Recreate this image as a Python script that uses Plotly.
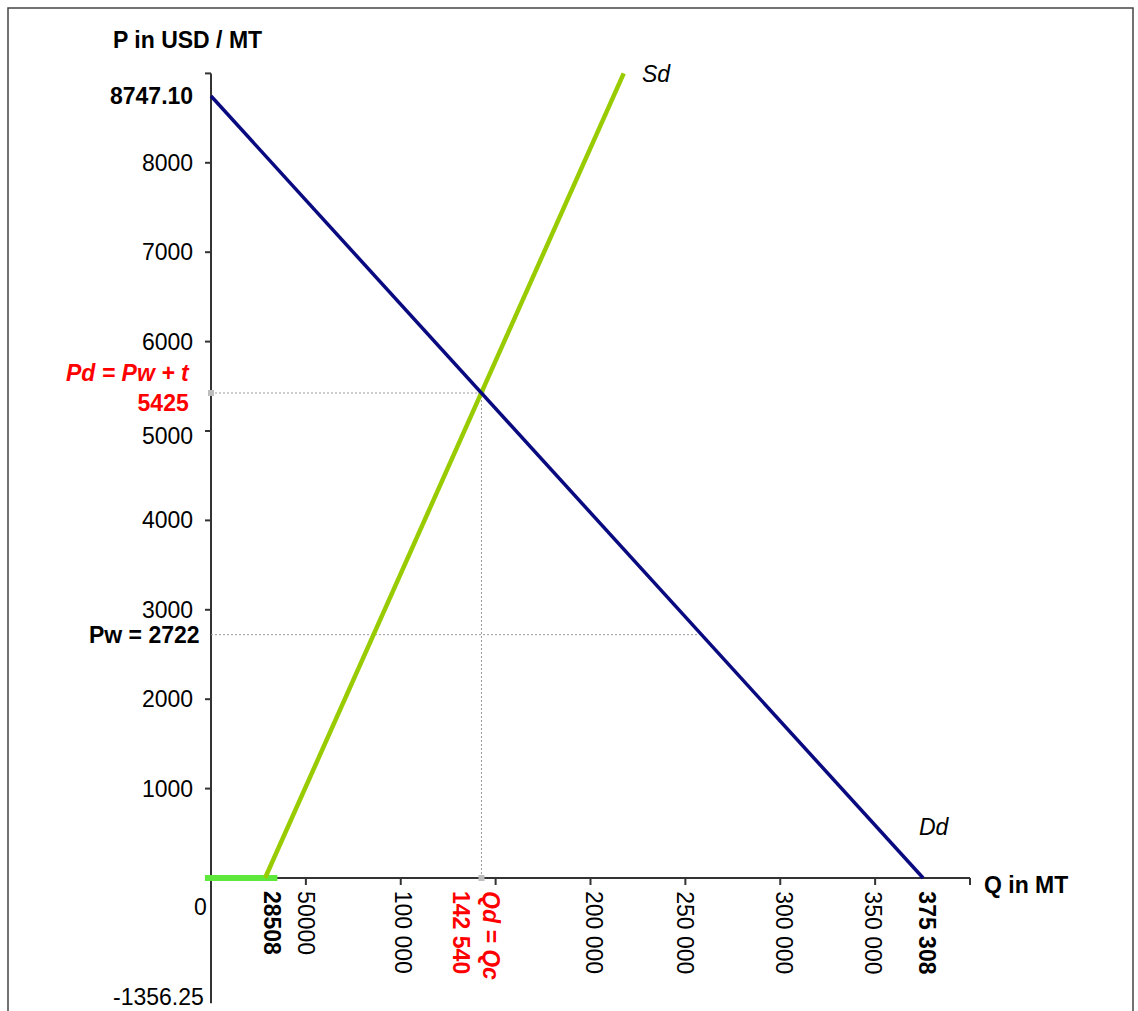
import plotly.graph_objects as go

# ---------------- data ----------------
demand_q = [0, 375308]
demand_p = [8747.10, 0]
supply_q = [28508, 217500]
supply_p = [0, 9000]
green_q = [-3200, 35000]
green_p = [0, 0]

pd_price = 5425          # Pd = Pw + t
pw_price = 2722          # Pw
qd_qc = 142540           # Qd = Qc
q_demand_at_pw = 258516  # demand quantity at Pw

y_tick_vals = [1000, 2000, 3000, 4000, 5000, 6000, 7000, 8000, 9000]
y_tick_labels = ["1000", "2000", "3000", "4000", "5000", "6000", "7000", "8000", ""]
x_tick_vals = [50000, 100000, 150000, 200000, 250000, 300000, 350000, 400000]
x_labels_vals = [28508, 50000, 100000, 200000, 250000, 300000, 350000, 375308]
x_labels_text = ["<b>28508</b>", "50000", "100 000", "200 000", "250 000",
                 "300 000", "350 000", "<b>375 308</b>"]
x_labels_shift = [7, 0, 3, 4, 0, 4, -2, 4]

# ---------------- layout calibration ----------------
W, H = 1138, 1011
X0_PX, X_SCALE = 211, (970 - 211) / 400000
Y0_PX, Y_SCALE = 878, 0.0894
x_range = [(0 - X0_PX) / X_SCALE, (W - X0_PX) / X_SCALE]
y_range = [(Y0_PX - H) / Y_SCALE, Y0_PX / Y_SCALE]

FONT = "Liberation Sans, Arial, sans-serif"
FS = 23
AXIS_COLOR = "#333333"
DASH_COLOR = "#9a9a9a"

fig = go.Figure()

# dashed guide lines
fig.add_trace(go.Scatter(x=[0, qd_qc], y=[pd_price, pd_price], mode="lines",
                         line=dict(color=DASH_COLOR, width=1, dash="2px,2px"), hoverinfo="skip"))
fig.add_trace(go.Scatter(x=[qd_qc, qd_qc], y=[0, pd_price], mode="lines",
                         line=dict(color=DASH_COLOR, width=1, dash="2px,2px"), hoverinfo="skip"))
fig.add_trace(go.Scatter(x=[0, q_demand_at_pw], y=[pw_price, pw_price], mode="lines",
                         line=dict(color=DASH_COLOR, width=1, dash="2px,2px"), hoverinfo="skip"))
fig.add_trace(go.Scatter(x=[0, qd_qc, qd_qc], y=[pd_price, 0, pd_price], mode="markers",
                         marker=dict(color="#bdbdbd", size=6, symbol="square"), hoverinfo="skip"))

# curves
fig.add_trace(go.Scatter(x=green_q, y=green_p, mode="lines",
                         line=dict(color="#5ee83c", width=6), hoverinfo="skip"))
fig.add_trace(go.Scatter(x=supply_q, y=supply_p, mode="lines",
                         line=dict(color="#99cc00", width=4.5), hoverinfo="skip"))
fig.add_trace(go.Scatter(x=demand_q, y=demand_p, mode="lines",
                         line=dict(color="#0a0a80", width=3.5), hoverinfo="skip"))

shapes = []
# axes
shapes.append(dict(type="line", xref="x", yref="y", x0=0, x1=0, y0=-1400, y1=9000,
                   line=dict(color=AXIS_COLOR, width=2), layer="below"))
shapes.append(dict(type="line", xref="x", yref="y", x0=0, x1=400000, y0=0, y1=0,
                   line=dict(color=AXIS_COLOR, width=2), layer="below"))
# ticks
tick_dx = 6 / X_SCALE
tick_dy = 7 / Y_SCALE
for v in y_tick_vals:
    shapes.append(dict(type="line", xref="x", yref="y", x0=-tick_dx, x1=0, y0=v, y1=v,
                       line=dict(color=AXIS_COLOR, width=2), layer="below"))
for v in x_tick_vals:
    shapes.append(dict(type="line", xref="x", yref="y", x0=v, x1=v, y0=0, y1=-tick_dy,
                       line=dict(color=AXIS_COLOR, width=2), layer="below"))
# outer frame
shapes.append(dict(type="rect", xref="paper", yref="paper",
                   x0=8 / W, x1=1133 / W, y0=-0.05, y1=1 - 8 / H,
                   line=dict(color="#444444", width=1.5), layer="below"))

ann = []
def A(**kw):
    base = dict(showarrow=False, font=dict(family=FONT, size=FS, color="black"))
    if "font" in kw:
        f = dict(base["font"]); f.update(kw.pop("font")); base["font"] = f
    base.update(kw)
    ann.append(base)

# y tick labels
for v, t in zip(y_tick_vals, y_tick_labels):
    if t:
        A(text=t, x=0, y=v, xref="x", yref="y", xanchor="right", yanchor="middle",
          xshift=-16, yshift=(-5 if v == 5000 else 0))
A(text="<b>8747.10</b>", x=0, y=demand_p[0], xref="x", yref="y", xanchor="right",
  yanchor="middle", xshift=-16)
A(text="<b><i>Pd = Pw + t</i></b><br><b>5425</b>", x=0, y=pd_price, xref="x", yref="y",
  xanchor="right", yanchor="middle", align="right", xshift=-19, yshift=5,
  font=dict(color="#ff0000"))
A(text="<b>Pw = 2722</b>", x=0, y=pw_price, xref="x", yref="y", xanchor="right",
  yanchor="middle", xshift=-9)
A(text="-1356.25", x=0, y=-1356.25, xref="x", yref="y", xanchor="right",
  yanchor="middle", xshift=-5, yshift=2)
A(text="0", x=0, y=0, xref="x", yref="y", xanchor="right", yanchor="middle",
  xshift=-2, yshift=-29)

# x labels (rotated)
for v, t, s in zip(x_labels_vals, x_labels_text, x_labels_shift):
    A(text=t, x=v, y=0, xref="x", yref="y", xanchor="center", yanchor="top",
      textangle=90, xshift=s, yshift=-11)
A(text="<b><i>Qd = Qc</i></b><br><b>142 540</b>", x=qd_qc, y=0, xref="x", yref="y",
  xanchor="center", yanchor="top", textangle=90, align="left", xshift=-5, yshift=-11,
  font=dict(color="#ff0000"))

# axis titles and curve names
A(text="<b>P in USD / MT</b>", x=187 / W, y=1 - 40 / H, xref="paper", yref="paper",
  xanchor="center", yanchor="middle")
A(text="<b>Q in MT</b>", x=400000, y=0, xref="x", yref="y", xanchor="left",
  yanchor="middle", xshift=12, yshift=-7)
A(text="<i>Sd</i>", x=supply_q[-1], y=supply_p[-1], xref="x", yref="y", xanchor="left",
  yanchor="middle", xshift=16, yshift=-1)
A(text="<i>Dd</i>", x=demand_q[-1], y=0, xref="x", yref="y", xanchor="left",
  yanchor="middle", xshift=-6, yshift=51)

fig.update_layout(
    width=W, height=H, autosize=False,
    margin=dict(l=0, r=0, t=0, b=0, pad=0),
    paper_bgcolor="white", plot_bgcolor="white",
    showlegend=False,
    xaxis=dict(range=x_range, visible=False, fixedrange=True),
    yaxis=dict(range=y_range, visible=False, fixedrange=True),
    shapes=shapes, annotations=ann,
    font=dict(family=FONT, size=FS, color="black"),
)

fig.write_html("out.html", config={"displayModeBar": False},
               post_script="document.body.style.margin='0';document.body.style.overflow='hidden';")
